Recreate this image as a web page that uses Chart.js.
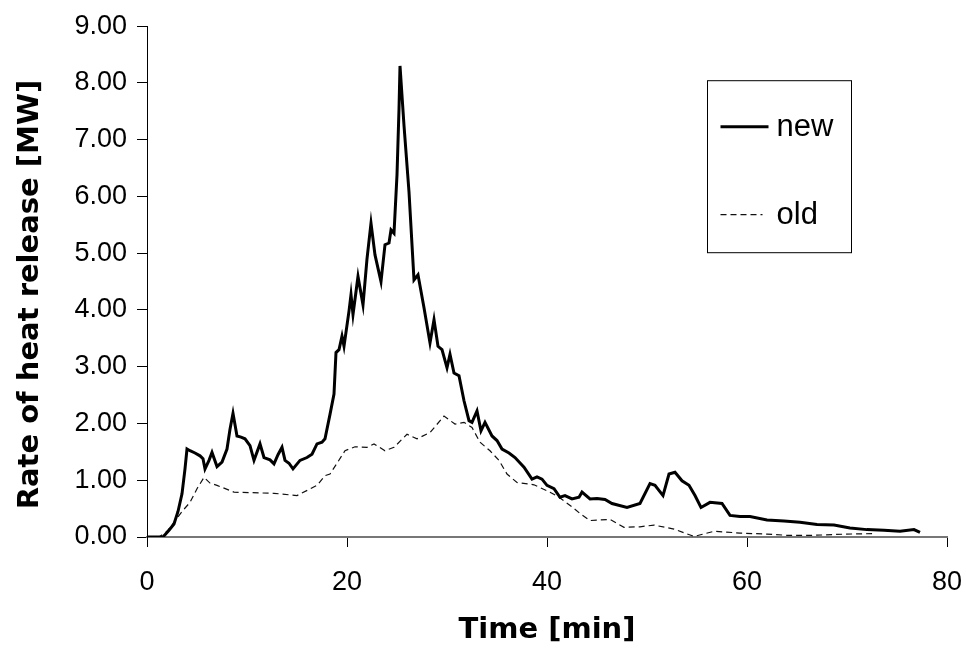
<!DOCTYPE html>
<html>
<head>
<meta charset="utf-8">
<title>Rate of heat release</title>
<script src="https://cdn.jsdelivr.net/npm/chart.js@4.4.1/dist/chart.umd.min.js"></script>
<style>
  html, body { margin: 0; padding: 0; background: #fff; }
  #wrap { width: 966px; height: 648px; }
</style>
</head>
<body>
<div id="wrap"><canvas id="hrr"></canvas></div>
<script>
// values
const newTime = [0, 1.6, 2.2, 2.7, 3.1, 3.5, 3.8, 4.0, 4.3, 4.8, 5.3, 5.6, 5.8, 6.2, 6.5, 7.0, 7.5, 8.0, 8.3, 8.6,
  9.0, 9.4, 9.8, 10.3, 10.7, 11.3, 11.7, 12.3, 12.7, 13.1, 13.5, 13.8, 14.2, 14.6, 15.3, 16.0, 16.5, 17.0, 17.5, 17.8,
  18.3, 18.7, 18.9, 19.2, 19.5, 19.7, 20.2, 20.4, 20.6, 21.1, 21.6, 22.0, 22.4, 22.8, 23.4, 23.8, 24.2, 24.4, 24.7, 25.0,
  25.2, 25.3, 25.7, 26.2, 26.7, 27.1, 27.7, 28.3, 28.7, 29.1, 29.5, 30.0, 30.3, 30.7, 31.2, 31.7, 32.2, 32.5, 33.0, 33.4,
  33.8, 34.5, 35.0, 35.5, 36.2, 36.8, 37.7, 38.5, 39.0, 39.5, 40.0, 40.7, 41.3, 41.8, 42.5, 43.2, 43.5, 44.3, 45.0, 45.8,
  46.5, 48.0, 49.3, 50.3, 50.8, 51.6, 52.2, 52.8, 53.5, 54.2, 54.8, 55.4, 56.3, 57.5, 58.3, 59.3, 60.3, 62.0, 63.7, 65.3,
  67.0, 68.7, 70.3, 72.0, 73.7, 75.3, 76.7, 77.3];
const newRate = [0, 0, 0.12, 0.23, 0.45, 0.76, 1.2, 1.55, 1.52, 1.48, 1.43, 1.38, 1.2, 1.35, 1.49, 1.24, 1.32, 1.55, 1.9, 2.18,
  1.78, 1.76, 1.73, 1.61, 1.35, 1.64, 1.40, 1.36, 1.29, 1.45, 1.58, 1.35, 1.30, 1.20, 1.35, 1.40, 1.46, 1.64, 1.67, 1.73,
  2.16, 2.52, 3.25, 3.30, 3.54, 3.36, 3.98, 4.27, 3.92, 4.59, 4.09, 4.90, 5.53, 4.97, 4.50, 5.15, 5.18, 5.41, 5.35, 6.38,
  7.54, 8.30, 7.25, 6.08, 4.53, 4.62, 4.04, 3.42, 3.83, 3.36, 3.30, 2.98, 3.22, 2.89, 2.84, 2.40, 2.05, 2.02, 2.22, 1.87,
  2.02, 1.78, 1.70, 1.55, 1.48, 1.40, 1.23, 1.02, 1.06, 1.02, 0.91, 0.85, 0.70, 0.73, 0.67, 0.70, 0.79, 0.67, 0.68, 0.66,
  0.59, 0.52, 0.59, 0.94, 0.91, 0.73, 1.11, 1.14, 0.99, 0.91, 0.73, 0.52, 0.61, 0.59, 0.38, 0.36, 0.36, 0.30, 0.28, 0.26,
  0.22, 0.21, 0.16, 0.13, 0.12, 0.10, 0.13, 0.08];

const oldTime = [0, 1.2, 2.0, 2.7, 3.5, 4.3, 5.0, 5.7, 6.3, 7.0, 8.7, 12.7, 15.0, 17.0, 17.8, 18.3, 19.0, 19.8, 20.8, 22.0,
  22.7, 23.8, 24.7, 26.0, 27.0, 28.3, 29.7, 30.8, 31.7, 32.5, 33.3, 34.3, 35.2, 36.0, 37.0, 38.7, 40.3, 41.2, 42.5, 43.4,
  44.3, 45.3, 46.3, 47.7, 49.3, 50.7, 52.7, 54.7, 56.7, 59.3, 62.0, 64.0, 66.7, 69.7, 72.7];
const oldRate = [0, 0, 0.10, 0.26, 0.45, 0.61, 0.85, 1.05, 0.95, 0.91, 0.79, 0.77, 0.73, 0.91, 1.08, 1.11, 1.30, 1.52, 1.59, 1.58,
  1.64, 1.52, 1.58, 1.81, 1.73, 1.84, 2.13, 1.99, 2.02, 1.93, 1.67, 1.52, 1.35, 1.11, 0.96, 0.92, 0.79, 0.70, 0.53, 0.40,
  0.29, 0.30, 0.31, 0.17, 0.18, 0.21, 0.14, 0.01, 0.10, 0.07, 0.05, 0.03, 0.03, 0.05, 0.06];

const xTicks = [0, 20, 40, 60, 80];
const yTicks = [0, 1, 2, 3, 4, 5, 6, 7, 8, 9];
const seriesNames = ["new", "old"];
const yTitle = "Rate of heat release [MW]";

function toPoints(xs, ys) {
  return xs.map((x, i) => ({ x: x, y: ys[i] }));
}

// legend drawn as a framed box inside the plot, like the original
const boxLegend = {
  id: "boxLegend",
  afterDraw(chart) {
    const ctx = chart.ctx;
    const area = chart.chartArea;
    const left = area.left + 560.5;
    const top = area.top + 54.5;
    const w = 144, h = 172;
    ctx.save();
    ctx.strokeStyle = "#000";
    ctx.lineWidth = 1;
    ctx.strokeRect(left, top, w, h);

    const rows = [top + 46, top + 134];
    chart.data.datasets.forEach((ds, i) => {
      ctx.beginPath();
      ctx.strokeStyle = ds.borderColor;
      ctx.lineWidth = ds.borderWidth;
      ctx.setLineDash(ds.borderDash || []);
      ctx.moveTo(left + 13, rows[i]);
      ctx.lineTo(left + (i === 0 ? 61 : 55), rows[i]);
      ctx.stroke();
      ctx.setLineDash([]);
      ctx.fillStyle = "#000";
      ctx.font = "31px 'Liberation Sans', Arial, sans-serif";
      ctx.textBaseline = "middle";
      ctx.fillText(ds.label, left + 69, rows[i] + 1);
    });
    ctx.restore();
  }
};

// y title sits a bit below the axis middle in the original, so draw it here
const sideTitle = {
  id: "sideTitle",
  afterDraw(chart) {
    const ctx = chart.ctx;
    const area = chart.chartArea;
    ctx.save();
    ctx.translate(30, (area.top + area.bottom) / 2 + 13);
    ctx.rotate(-Math.PI / 2);
    ctx.fillStyle = "#000";
    ctx.font = "bold 29px 'DejaVu Sans', sans-serif";
    ctx.textAlign = "center";
    ctx.textBaseline = "middle";
    ctx.fillText(yTitle, 0, 0);
    ctx.restore();
  }
};

const ctx = document.getElementById("hrr").getContext("2d");
const myChart = new Chart(ctx, {
  type: "line",
  data: {
    datasets: [
      {
        label: seriesNames[0],
        data: toPoints(newTime, newRate),
        borderColor: "#000",
        borderWidth: 3,
        pointRadius: 0,
        tension: 0,
        fill: false
      },
      {
        label: seriesNames[1],
        data: toPoints(oldTime, oldRate),
        borderColor: "#111",
        borderWidth: 1.2,
        borderDash: [6, 4],
        pointRadius: 0,
        tension: 0,
        fill: false
      }
    ]
  },
  options: {
    responsive: true,
    maintainAspectRatio: false,
    animation: false,
    layout: { padding: { top: 24, right: 19, left: 0, bottom: 0 } },
    plugins: {
      legend: { display: false },
      tooltip: { enabled: false }
    },
    scales: {
      x: {
        type: "linear",
        min: 0,
        max: 80,
        afterBuildTicks: (scale) => { scale.ticks = xTicks.map(v => ({ value: v })); },
        afterFit: (scale) => {
          scale.height = 111;
          // keep the plot as wide as in the original
          scale.paddingLeft = 0;
          scale.paddingRight = 0;
        },
        border: { color: "#777", width: 2 },
        grid: { drawOnChartArea: false, drawTicks: true, tickLength: 10, color: "#000" },
        ticks: {
          color: "#000",
          padding: 19,
          maxRotation: 0,
          font: { family: "'Liberation Sans', Arial, sans-serif", size: 27 }
        },
        title: {
          display: true,
          text: "Time [min]",
          color: "#000",
          padding: { top: 0, bottom: 0 },
          font: { family: "'DejaVu Sans', sans-serif", size: 29, weight: "bold" }
        }
      },
      y: {
        min: 0,
        max: 9,
        afterBuildTicks: (scale) => { scale.ticks = yTicks.map(v => ({ value: v })); },
        afterFit: (scale) => { scale.width = 147; },
        border: { color: "#000", width: 1 },
        grid: { drawOnChartArea: false, drawTicks: true, tickLength: 10, color: "#000" },
        ticks: {
          color: "#000",
          padding: 10,
          callback: (v) => Number(v).toFixed(2),
          font: { family: "'Liberation Sans', Arial, sans-serif", size: 27 }
        },
        title: { display: false }
      }
    }
  },
  plugins: [boxLegend, sideTitle]
});
</script>
</body>
</html>
